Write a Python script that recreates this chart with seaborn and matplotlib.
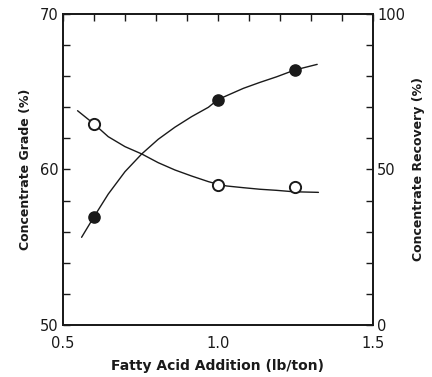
import matplotlib
matplotlib.use("Agg")
import matplotlib.pyplot as plt
from matplotlib.ticker import MultipleLocator
import seaborn as sns
import pandas as pd

# Measured points
addition = [0.6, 1.0, 1.25]
grade = [62.9, 59.0, 58.9]
recovery = [34.8, 72.5, 82.0]

# Hand-fitted trend curves
grade_curve_x = [0.547, 0.6, 0.646, 0.700, 0.754, 0.807, 0.861, 0.915, 0.969,
                 1.0, 1.028, 1.082, 1.135, 1.189, 1.243, 1.324]
grade_curve_y = [63.78, 62.93, 62.11, 61.47, 61.00, 60.44, 59.97, 59.58, 59.22,
                 59.05, 58.94, 58.83, 58.73, 58.66, 58.57, 58.53]
recovery_curve_x = [0.560, 0.6, 0.646, 0.700, 0.754, 0.807, 0.861, 0.915, 0.969,
                    1.0, 1.082, 1.135, 1.189, 1.248, 1.320]
recovery_curve_y = [28.2, 34.8, 42.1, 49.3, 55.0, 59.7, 63.6, 67.0, 70.0,
                    72.5, 76.1, 78.0, 79.8, 82.0, 83.8]

sns.set_theme(style="white")
plt.rcParams["font.family"] = ["DejaVu Sans"]

fig = plt.figure(figsize=(4.32, 3.77), dpi=100)
ax = fig.add_axes([0.1458, 0.1379, 0.7176, 0.825])
ax2 = ax.twinx()

ink = "#1a1a1a"
pts = pd.DataFrame({"x": addition, "grade": grade, "recovery": recovery})
gc = pd.DataFrame({"x": grade_curve_x, "y": grade_curve_y})
rc = pd.DataFrame({"x": recovery_curve_x, "y": recovery_curve_y})

sns.lineplot(data=gc, x="x", y="y", ax=ax, color=ink, lw=1.0, sort=False)
sns.scatterplot(data=pts, x="x", y="grade", ax=ax, s=65, marker="o",
                facecolor="white", edgecolor=ink, linewidth=1.4, zorder=3)
sns.lineplot(data=rc, x="x", y="y", ax=ax2, color=ink, lw=1.0, sort=False)
sns.scatterplot(data=pts, x="x", y="recovery", ax=ax2, s=65, marker="o",
                color=ink, edgecolor=ink, linewidth=1.0, zorder=3)

ax.set_xlim(0.5, 1.5)
ax.set_ylim(50, 70)
ax2.set_ylim(0, 100)

ax.xaxis.set_major_locator(MultipleLocator(0.5))
ax.xaxis.set_minor_locator(MultipleLocator(0.1))
ax.yaxis.set_major_locator(MultipleLocator(10))
ax.yaxis.set_minor_locator(MultipleLocator(2))
ax2.yaxis.set_major_locator(MultipleLocator(50))
ax2.yaxis.set_minor_locator(MultipleLocator(10))

tick_font = dict(fontsize=10.5, color=ink)
ax.set_xticks([0.5, 1.0, 1.5])
ax.set_xticklabels(["0.5", "1.0", "1.5"], **tick_font)
ax.set_yticks([50, 60, 70])
ax.set_yticklabels(["50", "60", "70"], **tick_font)
ax2.set_yticks([0, 50, 100])
ax2.set_yticklabels(["0", "50", "100"], **tick_font)

for a in (ax, ax2):
    for s in a.spines.values():
        s.set_color(ink)
        s.set_linewidth(1.3)
    a.tick_params(which="both", direction="in", length=5, width=1.0, color=ink)
ax.tick_params(axis="x", which="both", top=True, pad=8)
ax.tick_params(axis="y", which="both", pad=3)
ax2.tick_params(axis="y", which="both", pad=3)

label_font = dict(fontsize=9, fontweight="semibold", color=ink)
ax.set_xlabel("Fatty Acid Addition (lb/ton)", labelpad=6,
              fontsize=10, fontweight="semibold", color=ink)
ax.set_ylabel("Concentrate Grade (%)", labelpad=6, **label_font)
ax2.set_ylabel("Concentrate Recovery (%)", labelpad=5, **label_font)

fig.savefig("out.png", dpi=100, facecolor="white")
